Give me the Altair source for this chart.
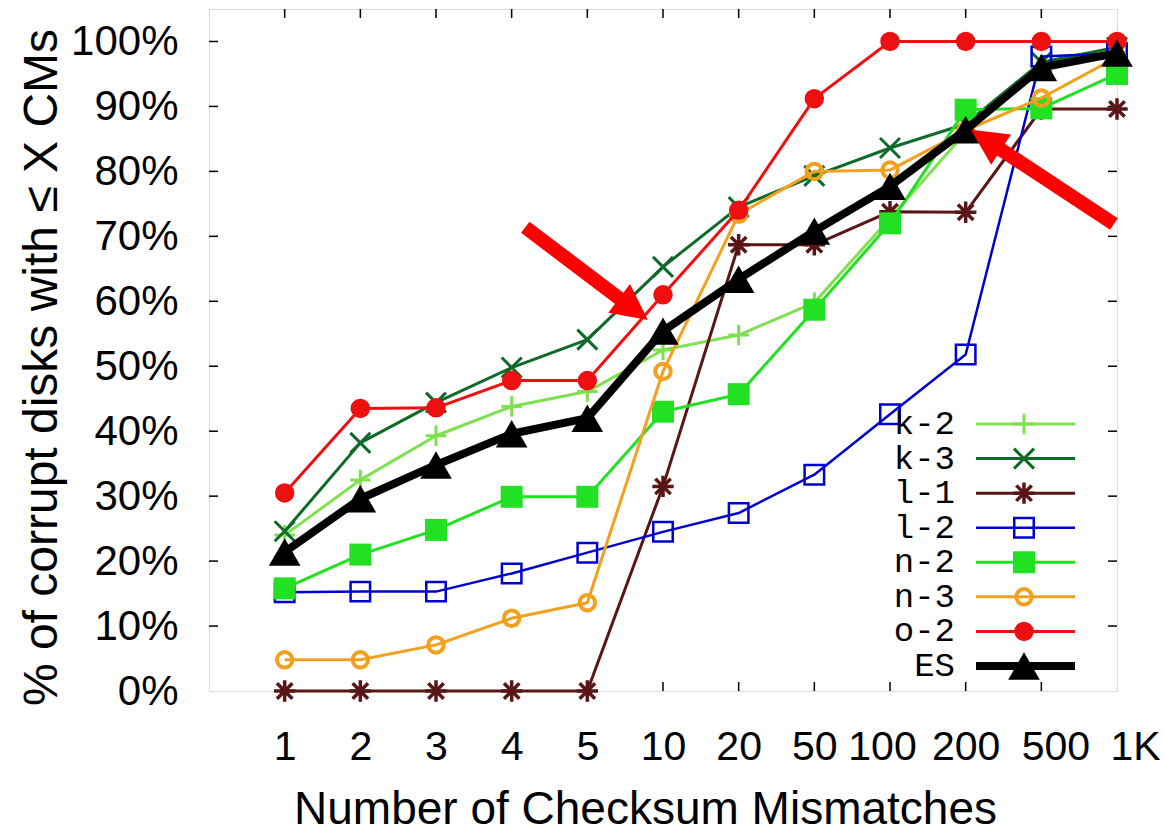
import math
import altair as alt
import pandas as pd

# ---------------- data ----------------
x_labels = ["1", "2", "3", "4", "5", "10", "20", "50", "100", "200", "500", "1K"]
x_index = list(range(1, 13))
series_names = ["k-2", "k-3", "l-1", "l-2", "n-2", "n-3", "o-2", "ES"]

k2 = [24.0, 32.5, 39.3, 43.8, 46.1, 52.5, 54.8, 59.8, 72.8, 86.0, 96.0, 97.8]
k3 = [24.6, 38.2, 44.4, 49.8, 54.1, 65.3, 74.5, 79.3, 83.6, 87.3, 96.8, 99.1]
l1 = [0.0, 0.0, 0.0, 0.0, 0.0, 31.5, 68.7, 68.7, 73.8, 73.7, 89.6, 89.6]
l2 = [15.2, 15.3, 15.3, 18.1, 21.3, 24.5, 27.4, 33.3, 42.6, 51.8, 97.7, 98.2]
n2 = [15.8, 21.0, 24.8, 29.9, 29.9, 43.0, 45.7, 58.7, 72.0, 89.5, 89.7, 95.0]
n3 = [4.8, 4.8, 7.1, 11.2, 13.6, 49.2, 73.4, 80.0, 80.2, 86.3, 91.3, 97.6]
o2 = [30.5, 43.5, 43.6, 47.8, 47.8, 61.0, 74.0, 91.2, 100.0, 100.0, 100.0, 100.0]
es = [21.4, 29.6, 34.8, 39.6, 42.0, 55.4, 63.4, 70.8, 77.7, 86.4, 96.0, 98.2]
series_values = [k2, k3, l1, l2, n2, n3, o2, es]

y_ticks = list(range(0, 101, 10))

# annotation arrows (data coordinates: tail -> tip)
arrow_tail_x = [4.18, 11.96]
arrow_tail_y = [71.4, 71.9]
arrow_tip_x = [5.80, 10.07]
arrow_tip_y = [57.1, 86.4]

# ---------------- style ----------------
W, H = 908, 682
X_MAX, Y_MAX = 12, 105
FONT = "Liberation Sans"

PLUS = "M-1,0L1,0M0,-1L0,1"
CROSS = "M-1,-1L1,1M-1,1L1,-1"
STAR = "M-1,0L1,0M0,-1L0,1M-0.72,-0.72L0.72,0.72M-0.72,0.72L0.72,-0.72"
HEAD = "M0,0L1,2L-1,2Z"

styles = {
    "k-2": dict(color="#7fe050", shape=PLUS, filled=False, size=420, psw=3, lw=3),
    "k-3": dict(color="#0f6a2a", shape=CROSS, filled=False, size=400, psw=3, lw=3),
    "l-1": dict(color="#5a1616", shape=STAR, filled=False, size=460, psw=3.5, lw=3),
    "l-2": dict(color="#0000d0", shape="square", filled=False, size=380, psw=2.5, lw=2.5),
    "n-2": dict(color="#22e022", shape="square", filled=True, size=484, psw=0, lw=3),
    "n-3": dict(color="#f2a01e", shape="circle", filled=False, size=240, psw=4, lw=3),
    "o-2": dict(color="#ee1010", shape="circle", filled=True, size=380, psw=0, lw=3),
    "ES": dict(color="#000000", shape="triangle-up", filled=True, size=1000, psw=0, lw=8),
}

label_expr = "[''," + ",".join("'%s'" % s for s in x_labels) + "][datum.value]"

x_axis = alt.Axis(
    values=x_index, labelExpr=label_expr, title="Number of Checksum Mismatches",
    grid=False, domain=False, ticks=False, tickSize=0,
    labelFont=FONT, labelFontSize=41, labelColor="black", labelPadding=36,
    labelBaseline="top", labelFlush=False, labelOverlap=False,
    labelOffset={"condition": [{"test": "datum.value == 9", "value": -8},
                               {"test": "datum.value == 11", "value": 14},
                               {"test": "datum.value == 12", "value": 18}],
                 "value": 0},
    titleFont=FONT, titleFontSize=46, titleFontWeight="normal", titleColor="black",
    titleX=436, titleY=118, titleAlign="center", titleBaseline="middle",
)
y_axis = alt.Axis(
    values=y_ticks, labelExpr="datum.value + '%'", title="% of  corrupt disks with \u2264 X CMs",
    grid=False, domain=False, ticks=False, tickSize=0,
    labelFont=FONT, labelFontSize=42, labelColor="black", labelPadding=31,
    labelFlush=False, labelOverlap=False,
    titleFont=FONT, titleFontSize=48,
    titleFontWeight="normal", titleColor="black",
    titleAngle=270, titleX=-167, titleY=358, titleAlign="center", titleBaseline="middle",
)


def X(field="idx"):
    return alt.X(f"{field}:Q", scale=alt.Scale(domain=[0, X_MAX], nice=False, zero=False), axis=x_axis)


def Y(field="v"):
    return alt.Y(f"{field}:Q", scale=alt.Scale(domain=[0, Y_MAX], nice=False, zero=True), axis=y_axis)


# ---------------- inward ticks (frame) ----------------
ytick_df = pd.DataFrame({"v": y_ticks[1:]})
xtick_df = pd.DataFrame({"idx": x_index[:-1]})
TL = 9
tick_layers = [
    alt.Chart(ytick_df).mark_rule(color="black", strokeWidth=1.5).encode(y=Y(), x=alt.value(0), x2=alt.value(TL)),
    alt.Chart(ytick_df).mark_rule(color="black", strokeWidth=1.5).encode(y=Y(), x=alt.value(W), x2=alt.value(W - TL)),
    alt.Chart(xtick_df).mark_rule(color="black", strokeWidth=1.5).encode(x=X(), y=alt.value(H), y2=alt.value(H - TL)),
    alt.Chart(xtick_df).mark_rule(color="black", strokeWidth=1.5).encode(x=X(), y=alt.value(0), y2=alt.value(TL)),
]

# ---------------- series ----------------
series_layers = []
for name, vals in zip(series_names, series_values):
    st = styles[name]
    df = pd.DataFrame({"idx": x_index, "v": vals, "series": name})
    series_layers.append(
        alt.Chart(df).mark_line(color=st["color"], strokeWidth=st["lw"], strokeJoin="round").encode(x=X(), y=Y())
    )
    pt_kwargs = dict(shape=st["shape"], size=st["size"], opacity=1, filled=st["filled"])
    if st["filled"]:
        pt_kwargs.update(color=st["color"], strokeWidth=0)
    else:
        pt_kwargs.update(color=st["color"], strokeWidth=st["psw"])
    series_layers.append(alt.Chart(df).mark_point(**pt_kwargs).encode(x=X(), y=Y()))

# ---------------- arrows ----------------
px_x = W / X_MAX
px_y = H / Y_MAX
shaft_rows, head_rows = [], []
for tx, ty, hx, hy in zip(arrow_tail_x, arrow_tail_y, arrow_tip_x, arrow_tip_y):
    dxp = (hx - tx) * px_x
    dyp = -(hy - ty) * px_y
    L = math.hypot(dxp, dyp)
    ux, uy = dxp / L, dyp / L
    ex = hx - 20 * ux / px_x
    ey = hy + 20 * uy / px_y
    ang = math.degrees(math.atan2(ux, -uy)) % 360
    shaft_rows.append({"idx": tx, "v": ty, "idx2": ex, "v2": ey})
    head_rows.append({"idx": hx, "v": hy, "ang": ang})

arrow_layers = [
    alt.Chart(pd.DataFrame(shaft_rows)).mark_rule(color="#ff0000", strokeWidth=14, strokeCap="butt").encode(
        x=X(), y=Y(), x2="idx2:Q", y2="v2:Q"),
    alt.Chart(pd.DataFrame(head_rows)).mark_point(shape=HEAD, filled=True, color="#ff0000", size=1300, opacity=1,
                                                  strokeWidth=0).encode(
        x=X(), y=Y(), angle=alt.Angle("ang:Q", scale=None)),
]

main = alt.layer(*tick_layers, *series_layers, *arrow_layers)

# ---------------- legend (inside plot, lower right) ----------------
leg_df = pd.DataFrame({
    "name": series_names,
    "row": list(range(len(series_names))),
    "color": [styles[n]["color"] for n in series_names],
    "lw": [styles[n]["lw"] for n in series_names],
})
YL = alt.Y("row:Q", scale=alt.Scale(domain=[0, 7], range=[415, 657], nice=False, zero=False), axis=None)
legend_layers = [
    alt.Chart(leg_df).mark_text(align="right", baseline="middle", font="Liberation Mono", fontSize=34,
                                color="black").encode(x=alt.value(746), y=YL, text="name:N"),
    alt.Chart(leg_df).mark_rule(strokeCap="butt").encode(
        x=alt.value(767), x2=alt.value(866), y=YL,
        color=alt.Color("color:N", scale=None), strokeWidth=alt.StrokeWidth("lw:Q", scale=None)),
]
for i, name in enumerate(series_names):
    st = styles[name]
    one = leg_df[leg_df["name"] == name]
    pt_kwargs = dict(shape=st["shape"], size=st["size"], opacity=1, filled=st["filled"], color=st["color"])
    pt_kwargs["strokeWidth"] = 0 if st["filled"] else st["psw"]
    legend_layers.append(alt.Chart(one).mark_point(**pt_kwargs).encode(x=alt.value(815), y=YL))

legend = alt.layer(*legend_layers)

chart = alt.layer(main, legend).resolve_scale(y="independent").properties(
    width=W, height=H,
    autosize=alt.AutoSizeParams(type="none"),
    padding={"left": 209, "top": 9, "right": 47, "bottom": 141},
).configure_view(stroke="black", strokeWidth=2).configure(background="white")

chart.save("out.html", embed_options={"renderer": "svg", "actions": False})
